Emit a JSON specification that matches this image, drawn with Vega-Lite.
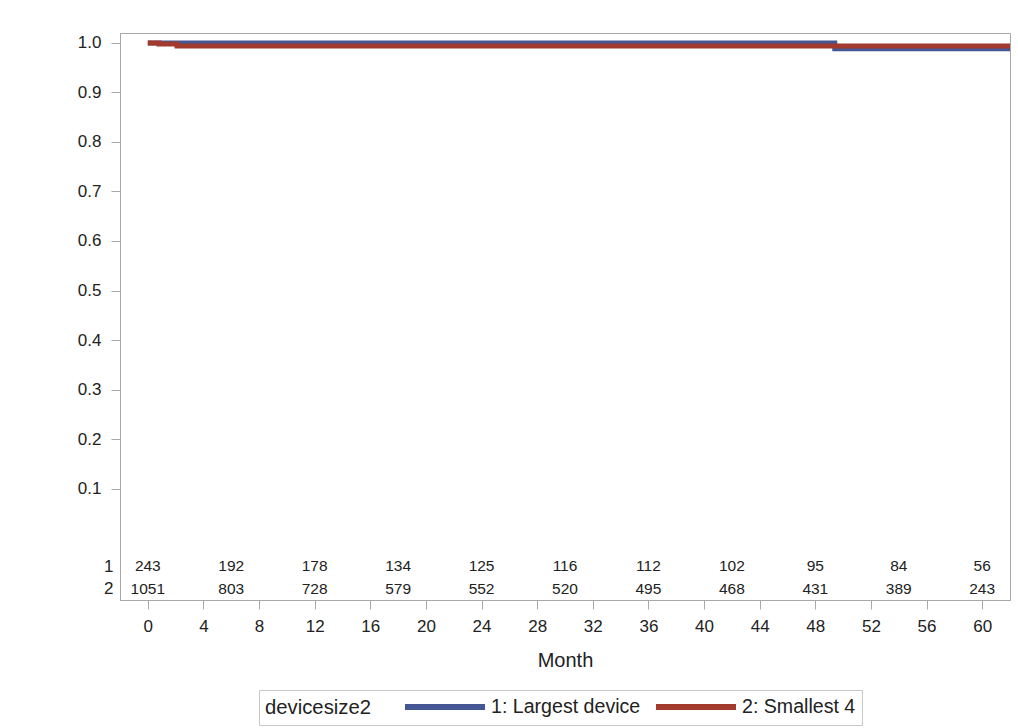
{
  "$schema": "https://vega.github.io/schema/vega-lite/v6.json",
  "autosize": "none",
  "width": 890,
  "height": 567,
  "padding": {"left": 120, "top": 33, "right": 8, "bottom": 128},
  "config": {
    "font": "Liberation Sans",
    "view": {"stroke": "#A8A8A8", "strokeWidth": 1},
    "axis": {"grid": false, "domainColor": "#A8A8A8", "tickColor": "#A8A8A8", "labelColor": "#222222", "titleColor": "#222222", "labelFontSize": 17, "titleFontWeight": "normal"}
  },
  "datasets": {
    "curves": [
      {"group": "1: Largest device", "month": 0, "survival": 1.0},
      {"group": "1: Largest device", "month": 49.4, "survival": 0.988},
      {"group": "1: Largest device", "month": 62, "survival": 0.988},
      {"group": "2: Smallest 4", "month": 0, "survival": 1.0},
      {"group": "2: Smallest 4", "month": 0.8, "survival": 0.998},
      {"group": "2: Smallest 4", "month": 2.1, "survival": 0.9935},
      {"group": "2: Smallest 4", "month": 62, "survival": 0.9935}
    ],
    "atrisk": [
      {"group": 1, "month": 0, "n": 243},
      {"group": 1, "month": 6, "n": 192},
      {"group": 1, "month": 12, "n": 178},
      {"group": 1, "month": 18, "n": 134},
      {"group": 1, "month": 24, "n": 125},
      {"group": 1, "month": 30, "n": 116},
      {"group": 1, "month": 36, "n": 112},
      {"group": 1, "month": 42, "n": 102},
      {"group": 1, "month": 48, "n": 95},
      {"group": 1, "month": 54, "n": 84},
      {"group": 1, "month": 60, "n": 56},
      {"group": 2, "month": 0, "n": 1051},
      {"group": 2, "month": 6, "n": 803},
      {"group": 2, "month": 12, "n": 728},
      {"group": 2, "month": 18, "n": 579},
      {"group": 2, "month": 24, "n": 552},
      {"group": 2, "month": 30, "n": 520},
      {"group": 2, "month": 36, "n": 495},
      {"group": 2, "month": 42, "n": 468},
      {"group": 2, "month": 48, "n": 431},
      {"group": 2, "month": 54, "n": 389},
      {"group": 2, "month": 60, "n": 243}
    ]
  },
  "layer": [
    {
      "data": {"name": "curves"},
      "mark": {"type": "line", "interpolate": "step-after", "strokeWidth": 5},
      "encoding": {
        "x": {"field": "month", "type": "quantitative", "title": "Month",
          "scale": {"domain": [-2, 62], "nice": false, "zero": false},
          "axis": {"values": [0, 4, 8, 12, 16, 20, 24, 28, 32, 36, 40, 44, 48, 52, 56, 60], "tickSize": 9, "labelPadding": 9, "titleFontSize": 20, "titlePadding": 16}},
        "y": {"field": "survival", "type": "quantitative", "title": null,
          "scale": {"domain": [-0.125, 1.02], "nice": false, "zero": false},
          "axis": {"values": [-0.102, -0.0564, 0.1, 0.2, 0.3, 0.4, 0.5, 0.6, 0.7, 0.8, 0.9, 1.0],
            "labelExpr": "datum.value < -0.08 ? '2' : (datum.value < 0 ? '1' : format(datum.value, '.1f'))",
            "tickSize": 9,
            "tickOpacity": {"condition": {"test": "datum.value < 0", "value": 0}, "value": 1},
            "labelPadding": {"condition": {"test": "datum.value < 0", "value": -2}, "value": 10}}},
        "color": {"field": "group", "type": "nominal",
          "scale": {"domain": ["1: Largest device", "2: Smallest 4"], "range": ["#445694", "#A23A2E"]},
          "legend": {"orient": "none", "legendX": 139, "legendY": 657, "direction": "horizontal", "title": "devicesize2", "titleOrient": "left", "titleFontSize": 20.3, "titleFontWeight": "normal", "titleColor": "#222222", "titlePadding": 63, "titleBaseline": "middle", "labelFontSize": 19.6, "labelColor": "#222222", "symbolType": "M-5,0H5", "symbolSize": 256, "symbolStrokeWidth": 6, "strokeColor": "#C8C8C8", "padding": 6, "columnPadding": 3, "labelOffset": 35}}
      }
    },
    {
      "data": {"name": "atrisk"},
      "transform": [{"filter": "datum.group == 1"}],
      "mark": {"type": "text", "fontSize": 15.5, "color": "#222222"},
      "encoding": {
        "x": {"field": "month", "type": "quantitative", "title": "Month"},
        "y": {"datum": -0.0564},
        "text": {"field": "n", "type": "quantitative"}
      }
    },
    {
      "data": {"name": "atrisk"},
      "transform": [{"filter": "datum.group == 2"}],
      "mark": {"type": "text", "fontSize": 15.5, "color": "#222222"},
      "encoding": {
        "x": {"field": "month", "type": "quantitative", "title": "Month"},
        "y": {"datum": -0.102},
        "text": {"field": "n", "type": "quantitative"}
      }
    }
  ]
}
